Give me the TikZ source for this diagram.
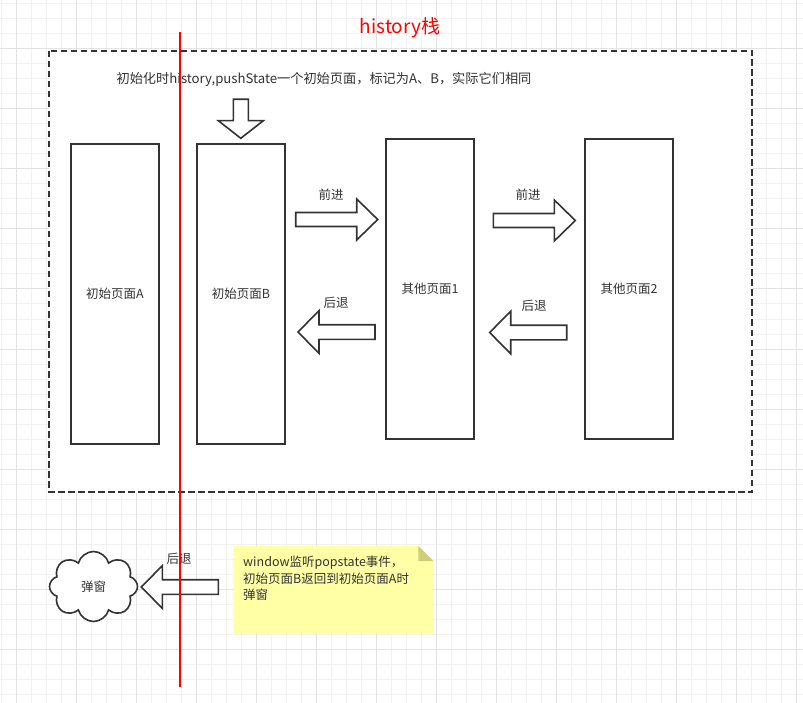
\documentclass[tikz,border=0pt]{standalone}
\usepackage{fontspec}
\setmainfont{Noto Sans CJK SC}
\usetikzlibrary{calc,shapes.symbols}
\definecolor{inkgrey}{HTML}{333333}
\definecolor{notefill}{HTML}{FFFFA6}
\definecolor{notefold}{HTML}{CDCD7A}
\definecolor{gridfine}{HTML}{F1F1F1}
\definecolor{gridbold}{HTML}{E2E2E2}
\def\blockarrow[#1](#2)(#3:#4:#5:#6){\draw[line width=1.6pt, draw=inkgrey, fill=white, shift={(#2)}, #1] (0,-#4) -- ({#3-#6},-#4) -- ({#3-#6},-#5) -- (#3,0) -- ({#3-#6},#5) -- ({#3-#6},#4) -- (0,#4) -- cycle;}

\begin{document}
\begin{tikzpicture}[x=1pt, y=-1pt,
		page/.style={draw=inkgrey, line width=1.6pt, fill=white, minimum width=88pt, minimum height=300pt, text=inkgrey, font=\fontsize{12.5}{14}\selectfont},
		lbl/.style={text=inkgrey, inner sep=0pt, font=\fontsize{12.5}{14}\selectfont}]
			%%%%% START %%%%%
			
			\useasboundingbox (0,0) rectangle (803,703);
			\fill[white] (0,0) rectangle (803,703);
			
			\foreach \gx in {1.7,16.7,...,801.7} \draw[gridfine, line width=1pt] (\gx,0) -- (\gx,703);
			\foreach \gy in {4,19,...,700} \draw[gridfine, line width=1pt] (0,\gy) -- (803,\gy);
			\foreach \gx in {16.7,76.7,...,796.7} \draw[gridbold, line width=1pt] (\gx,0) -- (\gx,703);
			\foreach \gy in {49,109,...,649} \draw[gridbold, line width=1pt] (0,\gy) -- (803,\gy);
			
			\node[text=red, inner sep=0pt, font=\fontsize{19}{22}\selectfont] (title) at (400,28) {history栈};
			
			\draw[draw=inkgrey, fill=white, line width=2pt, dash pattern=on 6.5pt off 3.5pt] (49,51) rectangle (752,492);
			
			\node[lbl, font=\fontsize{13.2}{15}\selectfont] (intro) at (324,79) {初始化时history,pushState一个初始页面，标记为A、B，实际它们相同};
			
			\node[page] (pageA) at (115,294) {初始页面A};
			\node[page] (pageB) at (241,294) {初始页面B};
			\node[page] (other1) at (430,289) {其他页面1};
			\node[page] (other2) at (629,289) {其他页面2};
			
			\blockarrow[rotate=-90](240.8,99.3)(39:7.5:22.5:17.6);
			
			\blockarrow[](295.7,219.5)(82:7:20.5:21);
			\node[lbl] (fwdone) at (331,195) {前进};
			\blockarrow[xscale=-1](375,332)(77:7.3:21.3:21);
			\node[lbl] (backone) at (336,303) {后退};
			
			\blockarrow[](493.3,220.5)(82:7:20.5:21);
			\node[lbl] (fwdtwo) at (528,195) {前进};
			\blockarrow[xscale=-1](566.7,332.5)(77:7.3:21.3:21);
			\node[lbl] (backtwo) at (534,306) {后退};
			
			\node[cloud, draw=inkgrey, line width=1.6pt, fill=white, cloud puffs=8, aspect=1.3, minimum width=88pt, minimum height=70pt, inner sep=0pt, text=inkgrey, font=\fontsize{12.5}{14}\selectfont] (popup) at (93.5,586.5) {弹窗};
			\blockarrow[xscale=-1](218.3,587)(77:7.3:21.3:21);
			\node[lbl] (backpop) at (179,559) {后退};
			
			\fill[notefill] (233.3,546) -- (418.3,546) -- (433.3,561) -- (433.3,633.3) -- (233.3,633.3) -- cycle;
			\fill[notefold] (418.3,546) -- (433.3,561) -- (418.3,561) -- cycle;
			\node[lbl, anchor=north west, align=left, font=\fontsize{12.5}{16.5}\selectfont] (notetext) at (243,556) {window监听popstate事件，\\初始页面B返回到初始页面A时\\弹窗};
			
			\draw[red, line width=2pt] (180,32) -- (180,687);
			
			%%%%% END %%%%%
\end{tikzpicture}
\end{document}
